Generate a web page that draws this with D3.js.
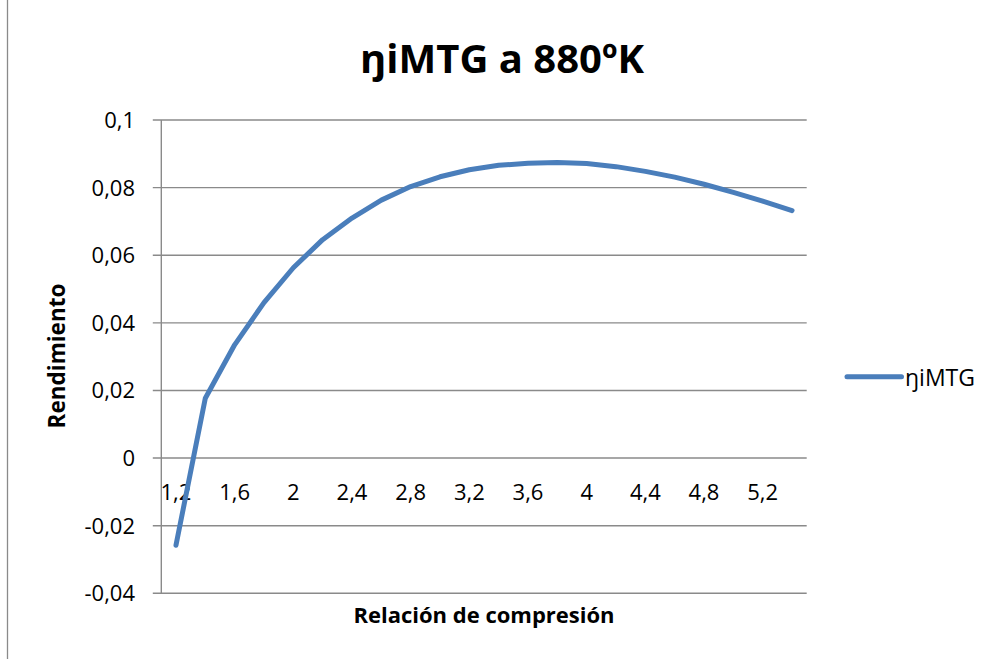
<!DOCTYPE html>
<html>
<head>
<meta charset="utf-8">
<script src="https://cdn.jsdelivr.net/npm/d3@7/dist/d3.min.js"></script>
<style>
  body { margin: 0; background: #fff; }
  text { font-family: "Open Sans", "Noto Sans", sans-serif; fill: #000; }
</style>
</head>
<body>
<svg id="chart" width="997" height="659"></svg>
<script>
// relacion de compresion (categorias del eje x)
var compresion = [1.2, 1.4, 1.6, 1.8, 2.0, 2.2, 2.4, 2.6, 2.8, 3.0, 3.2,
                  3.4, 3.6, 3.8, 4.0, 4.2, 4.4, 4.6, 4.8, 5.0, 5.2, 5.4];
// rendimiento
var rendimiento = [-0.0258, 0.0177, 0.0335, 0.0460, 0.0563, 0.0646, 0.0710, 0.0763,
                   0.0803, 0.0832, 0.0853, 0.0866, 0.0872, 0.0874, 0.0871, 0.0862,
                   0.0848, 0.0831, 0.0810, 0.0786, 0.0760, 0.0732];
var yTicks = [-0.04, -0.02, 0, 0.02, 0.04, 0.06, 0.08, 0.1];
var serieNombre = "ŋiMTG";
var titulo = "ŋiMTG a 880ºK";

var svg = d3.select("#chart"),
    plotLeft = 161.3, plotRight = 806.7, plotTop = 120, plotBottom = 593.3;

var es = d3.formatLocale({decimal: ",", thousands: ".", grouping: [3], currency: ["", "€"], minus: "-"});
var fmt = es.format("~f");

var x = d3.scaleBand()
    .domain(compresion)
    .range([plotLeft, plotRight]);

var y = d3.scaleLinear()
    .domain([-0.04, 0.1])
    .range([plotBottom, plotTop]);

// borde del area del grafico (solo se ve el lado izquierdo)
svg.append("line")
    .attr("x1", 7.5).attr("x2", 7.5)
    .attr("y1", 0).attr("y2", 659)
    .style("stroke", "#8a8a8a").style("stroke-width", 1.3);

// lineas de division
svg.append("g")
  .selectAll("line")
  .data(yTicks)
  .enter().append("line")
    .attr("x1", plotLeft - 8.5)
    .attr("x2", plotRight)
    .attr("y1", function(d) { return y(d); })
    .attr("y2", function(d) { return y(d); })
    .style("stroke", "#8a8a8a")
    .style("stroke-width", 1.4);

// eje vertical
svg.append("line")
    .attr("x1", plotLeft).attr("x2", plotLeft)
    .attr("y1", plotTop).attr("y2", plotBottom)
    .style("stroke", "#8a8a8a").style("stroke-width", 1.4);

svg.append("g")
  .selectAll("text")
  .data(yTicks)
  .enter().append("text")
    .attr("x", 135)
    .attr("y", function(d) { return y(d); })
    .attr("dy", "0.36em")
    .attr("text-anchor", "end")
    .style("font-size", "22px")
    .text(function(d) { return fmt(d); });

// etiquetas del eje x (una de cada dos)
svg.append("g")
  .selectAll("text")
  .data(compresion.filter(function(d, i) { return i % 2 === 0; }))
  .enter().append("text")
    .attr("x", function(d) { return x(d) + x.bandwidth() / 2; })
    .attr("y", y(0) + 41.5)
    .attr("text-anchor", "middle")
    .style("font-size", "22px")
    .text(function(d) { return fmt(d); });

// serie
var line = d3.line()
    .x(function(d, i) { return x(compresion[i]) + x.bandwidth() / 2; })
    .y(function(d) { return y(d); });

svg.append("path")
    .datum(rendimiento)
    .attr("d", line)
    .style("fill", "none")
    .style("stroke", "#4a7ebb")
    .style("stroke-width", 5)
    .style("stroke-linejoin", "round")
    .style("stroke-linecap", "round");

// titulo y ejes
svg.append("text")
    .attr("x", 502).attr("y", 73)
    .attr("text-anchor", "middle")
    .style("font-size", "40px").style("font-weight", "bold")
    .text(titulo);

svg.append("text")
    .attr("x", 484).attr("y", 623)
    .attr("text-anchor", "middle")
    .style("font-size", "22px").style("font-weight", "bold")
    .text("Relación de compresión");

svg.append("text")
    .attr("transform", "translate(65,356) rotate(-90)")
    .attr("text-anchor", "middle")
    .style("font-size", "22.5px").style("font-weight", "bold")
    .text("Rendimiento");

// leyenda
svg.append("line")
    .attr("x1", 847).attr("x2", 901.5)
    .attr("y1", 376.7).attr("y2", 376.7)
    .style("stroke", "#4a7ebb").style("stroke-width", 5)
    .style("stroke-linecap", "round");

svg.append("text")
    .attr("x", 905).attr("y", 386)
    .style("font-size", "23px")
    .text(serieNombre);
</script>
</body>
</html>
